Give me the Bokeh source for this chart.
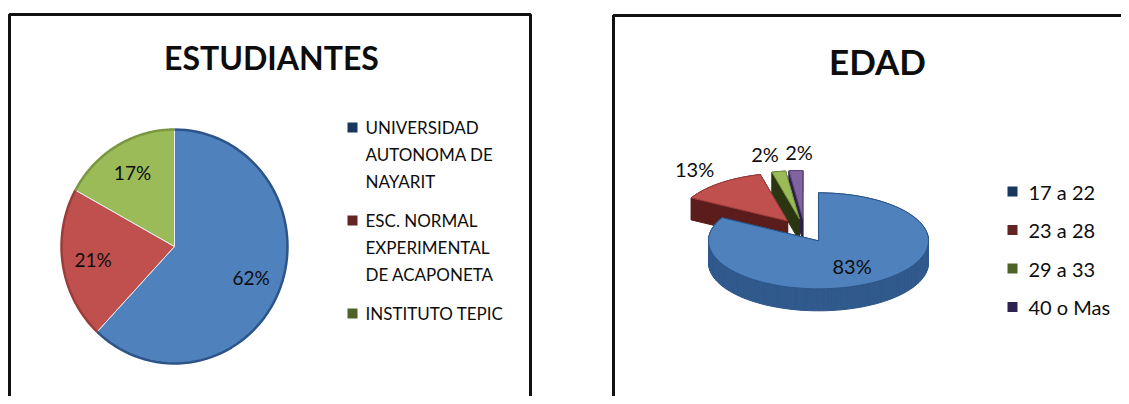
import numpy as np
from bokeh.plotting import figure
from bokeh.models import Range1d
from bokeh.embed import file_html
from bokeh.resources import INLINE
from bokeh.core.properties import value

# ---------------- data ----------------
titles = ["ESTUDIANTES", "EDAD"]
est_categories = ["UNIVERSIDAD\nAUTONOMA DE\nNAYARIT",
                  "ESC. NORMAL\nEXPERIMENTAL\nDE ACAPONETA",
                  "INSTITUTO TEPIC"]
est_values = [62, 21, 17]
edad_categories = ["17 a 22", "23 a 28", "29 a 33", "40 o Mas"]
edad_values = [83, 13, 2, 2]

# ---------------- styles ----------------
FONT = "Lato"
TITLE_SIZES = ["32px", "35px"]
TOP_COLORS = ["#4F81BD", "#C0504D", "#9BBB59", "#8064A2"]
EDGE_COLORS = ["#2C5488", "#9A3C39", "#7A9740", "#5E4782"]
SIDE_COLORS = ["#30598C", "#5A1D1C", "#2A3612", "#2C1E48"]
LEGEND_COLORS = ["#17375E", "#632523", "#4F6228", "#2E2250"]
TEXT_COLOR = "#0d0d0d"

W, H = 1121, 396
p = figure(width=W, height=H, x_range=Range1d(0, W), y_range=Range1d(H, 0),
           output_backend="svg", toolbar_location=None, min_border=0,
           x_axis_type=None, y_axis_type=None)
p.grid.visible = False
p.outline_line_color = None
p.background_fill_color = "white"
p.border_fill_color = "white"

# panel frames
p.quad(left=[9, 613], right=[530, 1180], top=[14, 15], bottom=[440, 440],
       fill_color=None, line_color="#111111", line_width=3)

# titles
p.text(x=[271, 877], y=[57, 60], text=titles, text_font=value(FONT),
       text_font_style="bold", text_font_size=TITLE_SIZES, text_align="center",
       text_baseline="middle", text_color=TEXT_COLOR)


def arc(cx, cy, rx, ry, t0, t1, n=80):
    t = np.radians(np.linspace(t0, t1, n))
    return cx + rx * np.sin(t), cy - ry * np.cos(t)


# ---------------- left pie (ESTUDIANTES) ----------------
L_CX, L_CY, L_RX, L_RY = 174, 246, 113, 117
tot = float(sum(est_values))
cum = np.concatenate([[0], np.cumsum(est_values)]) / tot * 360.0
xs, ys, axs, ays, lx, ly, lt = [], [], [], [], [], [], []
for i, v in enumerate(est_values):
    t0, t1 = cum[i], cum[i + 1]
    ax_, ay_ = arc(L_CX, L_CY, L_RX, L_RY, t0, t1)
    xs.append([L_CX] + list(ax_))
    ys.append([L_CY] + list(ay_))
    axs.append(list(ax_))
    ays.append(list(ay_))
    mid = np.radians((t0 + t1) / 2)
    lx.append(L_CX + 0.73 * L_RX * np.sin(mid))
    ly.append(L_CY - 0.73 * L_RY * np.cos(mid))
    lt.append(f"{round(v / tot * 100)}%")
p.patches(xs, ys, fill_color=TOP_COLORS[:3], line_color="#E8EEF6", line_width=1)
p.multi_line(axs, ays, line_color=EDGE_COLORS[:3], line_width=2.5)
p.text(x=lx, y=ly, text=lt, text_font=value(FONT), text_font_size="19px",
       text_align="center", text_baseline="middle", text_color=TEXT_COLOR)

# left legend
LEG_X, LEG_Y0, LEG_STEP, LEG_GAP = 352, 127, 27, 12
mx, my, tx, ty, tt = [], [], [], [], []
y = LEG_Y0
for cat in est_categories:
    lines = cat.split("\n")
    mx.append(LEG_X)
    my.append(y)
    for ln in lines:
        tx.append(LEG_X + 13)
        ty.append(y)
        tt.append(ln)
        y += LEG_STEP
    y += LEG_GAP
p.scatter(mx, my, marker="square", size=10, fill_color=LEGEND_COLORS[:3], line_color=None)
p.text(x=tx, y=ty, text=tt, text_font=value(FONT), text_font_size="17px",
       text_align="left", text_baseline="middle", text_color=TEXT_COLOR)

# ---------------- right pie (EDAD), 3D exploded ----------------
R_CX, R_CY, R_RX, R_RY, DEPTH, EXPLODE = 804, 230, 110, 48, 22, 0.25
LABEL_K = [0.6, 1.38, 1.38, 1.38]
tot = float(sum(edad_values))
cum = np.concatenate([[0], np.cumsum(edad_values)]) / tot * 360.0
slices = []
for i, v in enumerate(edad_values):
    t0, t1 = cum[i], cum[i + 1]
    mid = np.radians((t0 + t1) / 2)
    ox = R_CX + EXPLODE * R_RX * np.sin(mid)
    oy = R_CY - EXPLODE * R_RY * np.cos(mid)
    ax_, ay_ = arc(ox, oy, R_RX, R_RY, t0, t1, n=max(8, int((t1 - t0) / 2)))
    top_x = [ox] + list(ax_)
    top_y = [oy] + list(ay_)
    walls_x, walls_y = [], []
    for j in range(len(ax_) - 1):
        walls_x.append([ax_[j], ax_[j + 1], ax_[j + 1], ax_[j]])
        walls_y.append([ay_[j], ay_[j + 1], ay_[j + 1] + DEPTH, ay_[j] + DEPTH])
    for k in (0, -1):
        walls_x.append([ox, ax_[k], ax_[k], ox])
        walls_y.append([oy, ay_[k], ay_[k] + DEPTH, oy + DEPTH])
    lxx = ox + LABEL_K[i] * R_RX * np.sin(mid)
    lyy = oy - LABEL_K[i] * R_RY * np.cos(mid)
    slices.append(dict(i=i, top_x=top_x, top_y=top_y, wx=walls_x, wy=walls_y,
                       depth_key=float(np.mean(top_y)), lx=lxx, ly=lyy,
                       label=f"{round(v / tot * 100)}%"))

for s in sorted(slices, key=lambda s: s["depth_key"]):
    c = SIDE_COLORS[s["i"]]
    p.patches(s["wx"], s["wy"], fill_color=c, line_color=c, line_width=1)
    p.patches([s["top_x"]], [s["top_y"]], fill_color=TOP_COLORS[s["i"]],
              line_color=EDGE_COLORS[s["i"]], line_width=1)

# labels with simple horizontal de-overlap for outside labels
labs = [[s["lx"], s["ly"], s["label"]] for s in slices]
outside = sorted(range(1, len(labs)), key=lambda k: labs[k][0])
MIN_GAP = 34
for a, b in zip(outside[:-1], outside[1:]):
    if labs[b][0] - labs[a][0] < MIN_GAP and abs(labs[b][1] - labs[a][1]) < 20:
        m = (labs[a][0] + labs[b][0]) / 2
        labs[a][0] = m - MIN_GAP / 2
        labs[b][0] = m + MIN_GAP / 2
p.text(x=[l[0] for l in labs], y=[l[1] for l in labs], text=[l[2] for l in labs],
       text_font=value(FONT), text_font_size="20px", text_align="center",
       text_baseline="middle", text_color=TEXT_COLOR)

# right legend
RL_X, RL_Y0, RL_STEP = 1012, 191, 38.5
ry_ = [RL_Y0 + k * RL_STEP for k in range(len(edad_categories))]
p.scatter([RL_X] * len(ry_), ry_, marker="square", size=10,
          fill_color=LEGEND_COLORS, line_color=None)
p.text(x=[RL_X + 16] * len(ry_), y=ry_, text=edad_categories, text_font=value(FONT),
       text_font_size="20px", text_align="left", text_baseline="middle",
       text_color=TEXT_COLOR)

open("out.html", "w").write(file_html(p, INLINE))
